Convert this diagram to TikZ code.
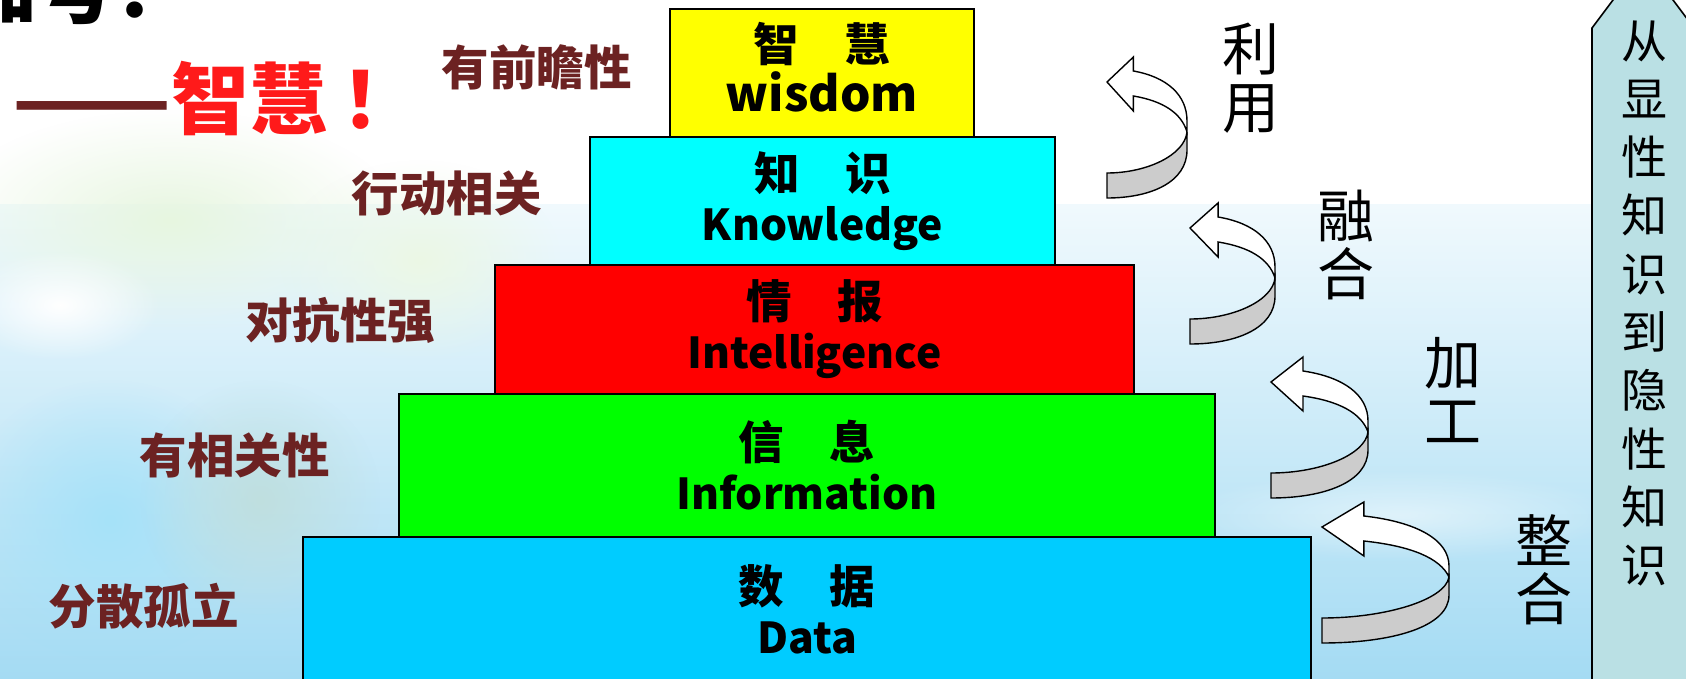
\documentclass[tikz,border=0pt]{standalone}
\usepackage{fontspec}
\setmainfont{Noto Sans}
\newfontfamily\cjk{Noto Sans CJK SC}
\usepackage{tikz}
\usetikzlibrary{fadings}

\definecolor{labelbrown}{RGB}{108,34,34}
\definecolor{titlered}{RGB}{255,26,26}
\definecolor{wisyellow}{RGB}{255,255,0}
\definecolor{knocyan}{RGB}{0,255,255}
\definecolor{intred}{RGB}{255,0,0}
\definecolor{infgreen}{RGB}{0,255,0}
\definecolor{datblue}{RGB}{0,204,255}
\definecolor{twistgrey}{RGB}{204,204,204}
\definecolor{bannerteal}{RGB}{186,224,228}
\definecolor{bgtop}{RGB}{240,249,253}
\definecolor{bgbot}{RGB}{164,219,243}

\tikzfading[name = softblob, inner color = transparent!0, outer color = transparent!100]

\newcommand{\eng}[2][21.3]{{\fontsize{#1}{25}\selectfont #2}}

\tikzset{
  layer/.style = {draw, line width = 1pt, inner sep = 0pt, align = center,
    font = \cjk\bfseries\fontsize{22.75}{25}\selectfont},
  side/.style = {text = labelbrown, inner sep = 0pt,
    font = \cjk\bfseries\fontsize{23.75}{28}\selectfont},
  verb/.style = {align = center, inner sep = 0pt,
    font = \cjk\fontsize{28.5}{29}\selectfont},
  arrowline/.style = {draw, line width = .7pt, line join = miter},
  pics/twist/.style = {code = {
    \path[arrowline, fill = white] (0,25) -- ({.33*#1},0) -- ({.33*#1},14)
      .. controls ({.75*#1},20) and ({#1},38) .. ({#1},64) -- ({#1},75)
      .. controls ({.93*#1},56) and ({.7*#1},44) .. ({.33*#1},39)
      -- ({.33*#1},54) -- cycle;
    \path[arrowline, fill = twistgrey] ({#1},75) -- ({#1},93)
      .. controls ({#1},125) and ({.55*#1},141) .. (0,141) -- (0,116)
      .. controls ({.5*#1},116) and ({.97*#1},98) .. ({#1},75) -- cycle;
  }}
}

\begin{document}
\begin{tikzpicture} [x = .5pt, y = -.5pt]
\useasboundingbox (0,0) rectangle (1686,679);
\fill[white] (0,0) rectangle (1686,679);
\shade[top color = bgtop, bottom color = bgbot] (0,205) rectangle (1686,679);
\fill[yellow!20!green!12, path fading = softblob] (-60,110) rectangle (400,330);
\fill[yellow!25!green!10, path fading = softblob] (280,160) rectangle (560,360);
\fill[cyan!35, path fading = softblob] (-40,380) rectangle (260,660);
\fill[teal!25, path fading = softblob] (140,380) rectangle (380,620);
\fill[white, path fading = softblob] (-40,250) rectangle (160,360);
\fill[white, opacity = .5, path fading = softblob] (1180,470) rectangle (1620,560);

\node[anchor = base west, inner sep = 0pt, font = \cjk\bfseries\fontsize{39}{40}\selectfont] (t1) at (-41,18) {加号：};
\node[anchor = base west, inner sep = 0pt, font = \cjk\bfseries\fontsize{39}{40}\selectfont] (t2) at (12,129) {\textcolor{labelbrown}{\scalebox{1.19}[1]{——}}\textcolor{titlered}{智慧\kern 7pt！}};

\node[layer, fill = wisyellow, minimum width = 152pt, minimum height = 64pt] (l1) at (822,73) {智　慧\\\eng[24]{wisdom\vphantom{g}}};
\node[layer, fill = knocyan, minimum width = 232.5pt, minimum height = 64pt] (l2) at (822.5,201) {知　识\\\eng{Knowledge}};
\node[layer, fill = intred, minimum width = 319.5pt, minimum height = 64.5pt] (l3) at (814.5,329.5) {情　报\\\eng{Intelligence}};
\node[layer, fill = infgreen, minimum width = 408pt, minimum height = 71.5pt] (l4) at (807,465.5) {信　息\\\eng{Information}};
\node[layer, fill = datblue, minimum width = 504pt, minimum height = 72pt] (l5) at (807,609) {数　据\\\eng{Data}};

\node[side] (a1) at (536.5,67) {有前瞻性};
\node[side] (a2) at (446.5,193) {行动相关};
\node[side] (a3) at (340,320) {对抗性强};
\node[side] (a4) at (234.5,455) {有相关性};
\node[side] (a5) at (143.5,606) {分散孤立};

\pic at (1107,57) {twist = 80};
\pic at (1190,203) {twist = 85};
\pic at (1271,357) {twist = 97};
\pic at (1322,502) {twist = 127};

\node[verb] (r1) at (1251,78) {利\\用};
\node[verb] (r2) at (1346,245) {融\\合};
\node[verb] (r3) at (1453,390) {加\\工};
\node[verb] (r4) at (1544,570) {整\\合};

\draw[fill = bannerteal, line width = .8pt] (1592,700) -- (1592,28) -- (1643,-40) -- (1694,28) -- (1694,700) -- cycle;
\node[align = center, inner sep = 0pt, anchor = north, font = \cjk\fontsize{23}{29.15}\selectfont] (b1) at (1644,20) {从\\显\\性\\知\\识\\到\\隐\\性\\知\\识};
\end{tikzpicture}
\end{document}
